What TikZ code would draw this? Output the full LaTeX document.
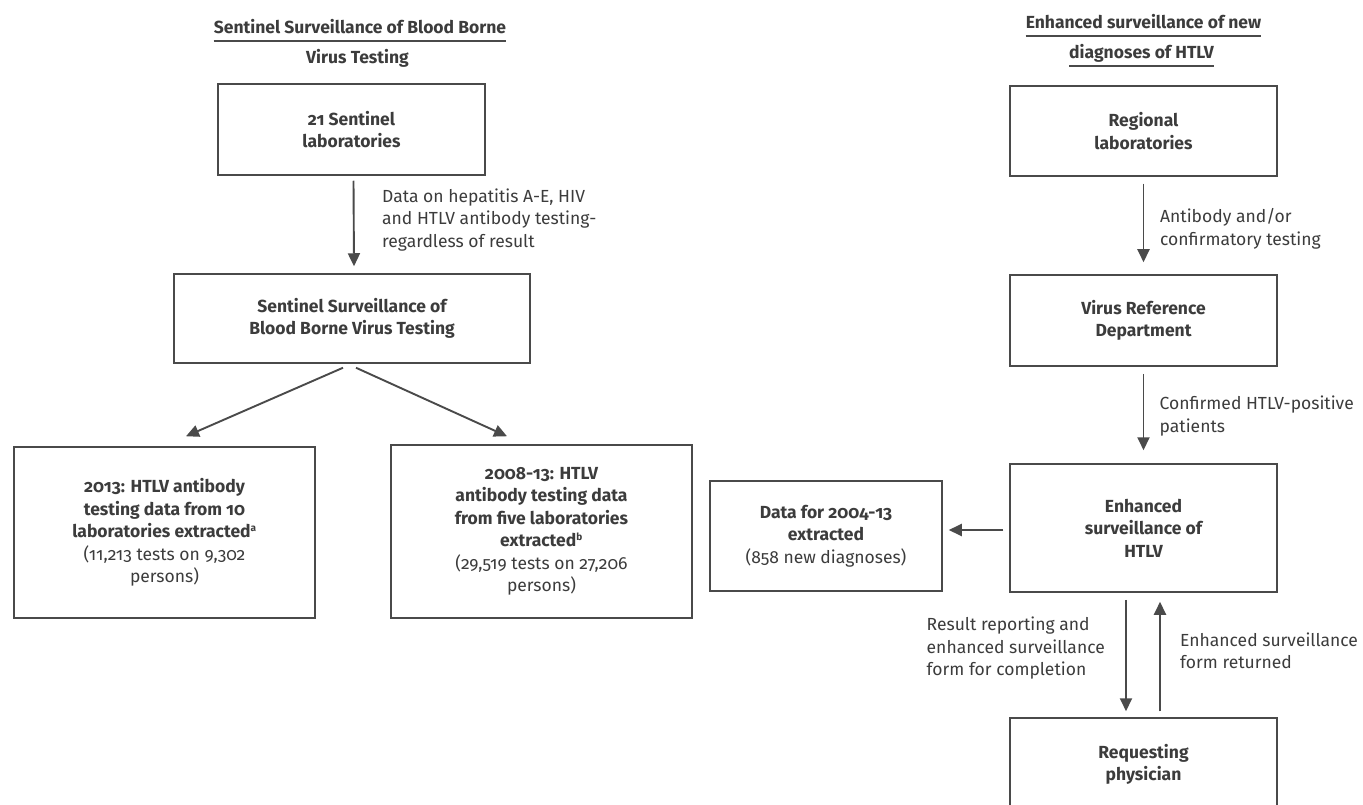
\documentclass[tikz,border=0pt]{standalone}
\usepackage{fontspec}
\setmainfont{Fira Sans}[Numbers=OldStyle]
\usetikzlibrary{arrows.meta}
\definecolor{ink}{HTML}{3C3C3C}
\definecolor{edge}{HTML}{4A4A4A}
\begin{document}
\begin{tikzpicture}[x=1pt,y=-1pt,
  every node/.style={text=ink, font=\fontsize{17.5}{22.5}\selectfont},
  boxnode/.style 2 args={draw=edge, line width=1.5pt, rectangle, minimum width=#1, minimum height=#2, inner sep=0pt, align=center},
  arr/.style={draw=edge, line width=1.9pt, -{Triangle[length=13pt,width=12pt]}},
  lbl/.style={align=left, anchor=west, inner sep=0pt},
  ttl/.style={anchor=base, inner sep=0pt, font=\fontsize{17.5}{22.5}\selectfont\bfseries},
  uline/.style={draw=edge, line width=1.1pt}]
\useasboundingbox (0,0) rectangle (1363,805);
\clip (0,0) rectangle (1363,805);
\fill[white] (0,0) rectangle (1363,805);

% titles
\node[ttl] (t1) at (360,34) {Sentinel Surveillance of Blood Borne};
\draw[uline] ([yshift=-7pt]t1.base west) -- ([yshift=-7pt]t1.base east);
\node[ttl] (t2) at (357.5,64) {Virus Testing};
\node[ttl] (t3) at (1143.5,29) {Enhanced surveillance of new};
\draw[uline] ([yshift=-7pt]t3.base west) -- ([yshift=-7pt]t3.base east);
\node[ttl] (t4) at (1141.5,59) {diagnoses of HTLV};
\draw[uline] ([yshift=-7pt]t4.base west) -- ([yshift=-7pt]t4.base east);

% left column
\node[boxnode={267}{91}] (b1) at (351.5,129.5) {\bfseries 21 Sentinel\\\bfseries laboratories};
\node[boxnode={356}{89}] (b2) at (352,318.5) {\bfseries Sentinel Surveillance of\\\bfseries Blood Borne Virus Testing};
\node[boxnode={301}{171}] (b3) at (164.5,532.5) {{\bfseries 2013: HTLV antibody}\\{\bfseries testing data from 10}\\{\bfseries laboratories extracted\textsuperscript{\fontsize{10}{10}\selectfont a}}\\(11,213 tests on 9,302\\persons)};
\node[boxnode={301}{173}] (b4) at (541.5,531.5) {{\bfseries 2008-13: HTLV}\\{\bfseries antibody testing data}\\{\bfseries from five laboratories}\\{\bfseries extracted\textsuperscript{\fontsize{10}{10}\selectfont b}}\\(29,519 tests on 27,206\\persons)};

\draw[arr] ([shift={(2,5)}]b1.south) -- ([shift={(2,-7)}]b2.south |- b2.north);
\node[lbl] (l1) at (382,220) {Data on hepatitis A-E, HIV\\and HTLV antibody testing-\\regardless of result};
\draw[arr] ([shift={(-9,4)}]b2.south) -- ([shift={(21.5,-10)}]b3.north);
\draw[arr] ([shift={(4,4)}]b2.south) -- ([shift={(-34.5,-8)}]b4.north);

% right column
\node[boxnode={267}{90}] (r1) at (1143.5,131) {\bfseries Regional\\\bfseries laboratories};
\node[boxnode={267}{91}] (r2) at (1143.5,320.5) {\bfseries Virus Reference\\\bfseries Department};
\node[boxnode={267}{128}] (r3) at (1143.5,528) {\bfseries Enhanced\\\bfseries surveillance of\\\bfseries HTLV};
\node[boxnode={267}{93}] (r4) at (1143.5,764.5) {\bfseries Requesting\\\bfseries physician};
\node[boxnode={232}{110}] (d) at (826,536) {{\bfseries Data for 2004-13}\\{\bfseries extracted}\\(858 new diagnoses)};

\draw[arr] ([yshift=-7pt]r1.south) -- ([yshift=12pt]r2.north);
\node[lbl] (l2) at (1160,229) {Antibody and/or\\confirmatory testing};
\draw[arr] ([yshift=-7pt]r2.south) -- ([yshift=13pt]r3.north);
\node[lbl] (l3) at (1159.5,416) {Confirmed HTLV-positive\\patients};
\draw[arr] ([shift={(-6,2)}]r3.west) -- ([shift={(6,-6)}]d.east);
\draw[arr] ([shift={(-17.5,7)}]r3.south) -- ([shift={(-17.5,-6)}]r4.north);
\draw[arr] ([shift={(16.5,-6)}]r4.north) -- ([shift={(16.5,9)}]r3.south);
\node[lbl] (l4) at (926.5,648.5) {Result reporting and\\enhanced surveillance\\form for completion};
\node[lbl] (l5) at (1180,651) {Enhanced surveillance\\form returned};
\end{tikzpicture}
\end{document}
